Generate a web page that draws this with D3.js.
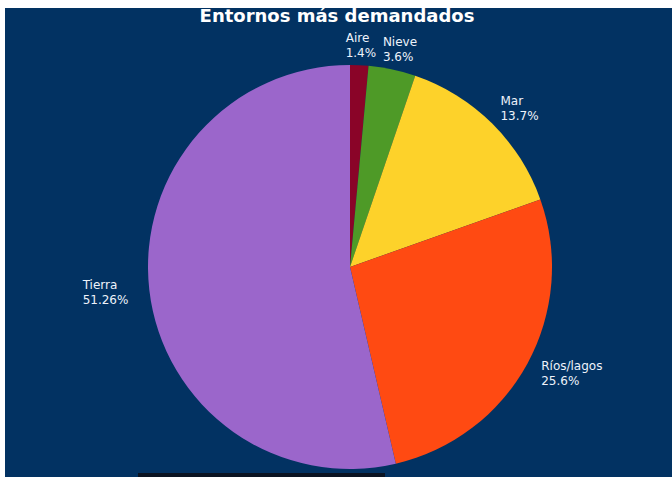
<!DOCTYPE html>
<html>
<head>
<meta charset="utf-8">
<script src="https://cdn.jsdelivr.net/npm/d3@7"></script>
<style>
  html, body { margin: 0; padding: 0; background: #ffffff; }
  svg { display: block; }
</style>
</head>
<body>
<svg id="chart" width="672" height="477"></svg>
<script>
// Environments and their share of demand (%)
const categories = ["Aire", "Nieve", "Mar", "Ríos/lagos", "Tierra"];
const values = [1.4, 3.6, 13.7, 25.6, 51.26];
const valueLabels = ["1.4%", "3.6%", "13.7%", "25.6%", "51.26%"];
const colors = ["#8a0428", "#4e9a27", "#fdd22a", "#ff4a12", "#9b66cb"];
const title = "Entornos más demandados";

const W = 672, H = 477;
const svg = d3.select("#chart");

// panel background, offset by a thin white margin on the top and left
svg.append("rect")
  .attr("x", 5).attr("y", 8)
  .attr("width", W - 5).attr("height", H - 8)
  .attr("fill", "#023262");

// dark strip along the bottom edge
svg.append("rect")
  .attr("x", 138).attr("y", 473)
  .attr("width", 247).attr("height", 4)
  .attr("fill", "#0b1422");

svg.append("text")
  .attr("x", 337).attr("y", 22)
  .attr("text-anchor", "middle")
  .attr("font-family", "DejaVu Sans, sans-serif")
  .attr("font-weight", "bold")
  .attr("font-size", 18)
  .attr("fill", "#ffffff")
  .text(title);

const cx = 350, cy = 267, r = 202;
const g = svg.append("g").attr("transform", `translate(${cx},${cy})`);

const pie = d3.pie().sort(null).value((d, i) => values[i]);
const arcs = pie(categories);
const arc = d3.arc().innerRadius(0).outerRadius(r);

g.selectAll("path.slice")
  .data(arcs)
  .join("path")
  .attr("class", "slice")
  .attr("d", arc)
  .attr("fill", (d, i) => colors[i]);

// two-line labels placed just outside each slice on its middle angle
const labelR = r * 1.1;
const lineH = 15;
arcs.forEach((d, i) => {
  const mid = (d.startAngle + d.endAngle) / 2;
  const px = Math.sin(mid) * labelR;
  const py = -Math.cos(mid) * labelR;
  const t = g.append("text")
    .attr("font-family", "DejaVu Sans, sans-serif")
    .attr("font-size", 12)
    .attr("fill", "#eef2fb");
  const lines = [categories[i], valueLabels[i]];
  lines.forEach((s, k) => {
    t.append("tspan").attr("x", 0).attr("y", (k - 0.5) * lineH + 4).text(s);
  });
  const bw = t.node().getBBox().width;
  // block slides from centred (top) toward the outer side of the pie
  const left = px - bw / 2 + Math.sin(mid) * bw / 2;
  t.attr("transform", `translate(${left},${py})`);
});
</script>
</body>
</html>
